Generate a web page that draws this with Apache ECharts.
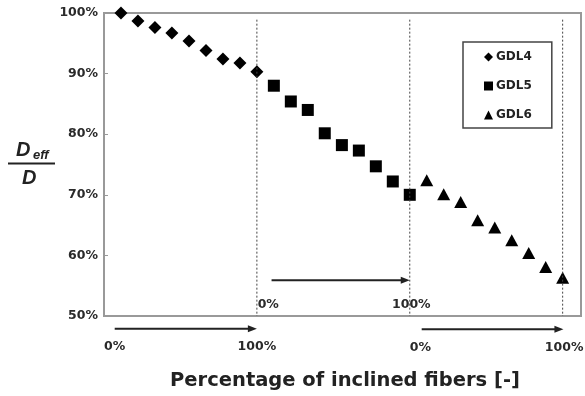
<!DOCTYPE html>
<html><head><meta charset="utf-8">
<script src="https://cdn.jsdelivr.net/npm/echarts@6/dist/echarts.min.js"></script>
<style>html,body{margin:0;padding:0;background:#fff}#c{width:585px;height:396px}</style>
</head><body><div id="c"></div>
<script>
// ---- data ----
const seriesNames = ['GDL4', 'GDL5', 'GDL6'];
const gdl4X = [11.1, 22.2, 33.3, 44.4, 55.6, 66.7, 77.8, 88.9, 100];
const gdl4Y = [100, 98.7, 97.6, 96.7, 95.4, 93.8, 92.4, 91.75, 90.3];
const gdl5X = [111.1, 122.2, 133.3, 144.4, 155.6, 166.7, 177.8, 188.9, 200];
const gdl5Y = [88.0, 85.4, 84.0, 80.15, 78.2, 77.3, 74.7, 72.2, 70.0];
const gdl6X = [211.1, 222.2, 233.3, 244.4, 255.6, 266.7, 277.8, 288.9, 300];
const gdl6Y = [72.4, 70.1, 68.8, 65.8, 64.6, 62.5, 60.4, 58.1, 56.3];
const yTicks = [50, 60, 70, 80, 90, 100];
const segmentBounds = [100, 200, 300];
const rangeLabels = ['0%', '100%'];

// ---- chart ----
const FONT = 'DejaVu Sans';
const chart = echarts.init(document.getElementById('c'), null, {renderer: 'canvas'});
const zip = (xs, ys) => xs.map((x, i) => [x, ys[i]]);
const markStyle = {color: '#000', opacity: 1};

chart.setOption({
  animation: false,
  backgroundColor: '#fff',
  grid: {left: 104, right: 4, top: 13, bottom: 80, show: true, borderColor: '#999', borderWidth: 2},
  xAxis: {type: 'value', min: 0, max: 312, axisLine: {show: true, lineStyle: {color: '#999', width: 2}},
    axisTick: {show: false}, axisLabel: {show: false}, splitLine: {show: false}},
  yAxis: {type: 'value', min: yTicks[0], max: yTicks[yTicks.length - 1], interval: 10,
    axisLine: {show: true, lineStyle: {color: '#999', width: 2}},
    axisTick: {show: true, inside: true, length: 4, lineStyle: {color: '#999', width: 1}},
    axisLabel: {formatter: '{value}%', margin: 6, color: '#2a2a2a', fontWeight: 'bold', fontSize: 12.5, fontFamily: FONT},
    splitLine: {show: false}},
  legend: {data: seriesNames, orient: 'vertical', left: 463, top: 42,
    borderColor: '#444', borderWidth: 1.5, padding: [8, 20, 6, 21], itemGap: 15,
    itemWidth: 9, itemHeight: 9, itemStyle: {borderWidth: 0, opacity: 1},
    textStyle: {fontFamily: FONT, fontWeight: 'bold', fontSize: 12, color: '#222', lineHeight: 14, padding: [0, 0, 0, -2]}},
  series: [
    {name: 'GDL4', type: 'scatter', symbol: 'diamond', symbolSize: 13, itemStyle: markStyle, data: zip(gdl4X, gdl4Y)},
    {name: 'GDL5', type: 'scatter', symbol: 'rect', symbolSize: 12, itemStyle: markStyle, data: zip(gdl5X, gdl5Y)},
    {name: 'GDL6', type: 'scatter', symbol: 'triangle', symbolSize: [13, 12], itemStyle: markStyle, data: zip(gdl6X, gdl6Y)}
  ]
});

// ---- annotations positioned through the axes ----
const px = (x, y) => chart.convertToPixel({xAxisIndex: 0, yAxisIndex: 0}, [x, y]);
const g = [];
// dashed vertical boundaries
segmentBounds.forEach(b => {
  const a = px(b, 98.9), c = px(b, 50);
  g.push({type: 'line', shape: {x1: a[0], y1: a[1], x2: c[0], y2: c[1]}, silent: true,
    style: {stroke: '#444', lineWidth: 1, lineDash: [2, 2]}, z: 5});
});
// arrows: [xStart, xEnd, yValue]
const arrows = [[7, 100, 47.9], [109.6, 200, 55.9], [207.8, 300.5, 47.8]];
arrows.forEach(([x0, x1, yv]) => {
  const a = px(x0, yv), b = px(x1, yv);
  const head = 9;
  g.push({type: 'line', shape: {x1: a[0], y1: a[1], x2: b[0] - head + 1, y2: b[1]}, silent: true,
    style: {stroke: '#222', lineWidth: 2}, z: 5});
  g.push({type: 'polygon', shape: {points: [[b[0], b[1]], [b[0] - head, b[1] - 3.5], [b[0] - head, b[1] + 3.5]]}, silent: true,
    style: {fill: '#222'}, z: 5});
});
// range labels: [xValue, yValue, textIndex, align]
const labelSpots = [[0, 44.9, 0, 'left'], [100, 44.9, 1, 'center'],
  [100.5, 51.8, 0, 'left'], [201, 51.8, 1, 'center'],
  [200, 44.7, 0, 'left'], [301, 44.7, 1, 'center']];
labelSpots.forEach(([xv, yv, ti, al]) => {
  const p = px(xv, yv);
  g.push({type: 'text', x: p[0], y: p[1], silent: true, z: 6,
    style: {text: rangeLabels[ti], fill: '#2a2a2a', font: 'bold 12.5px "' + FONT + '"', textAlign: al, textVerticalAlign: 'middle'}});
});
// axis titles
g.push({type: 'text', x: 345, y: 381, silent: true,
  style: {text: 'Percentage of inclined fibers [-]', fill: '#222', font: 'bold 19.5px "DejaVu Sans"', textAlign: 'center', textVerticalAlign: 'middle'}});
g.push({type: 'text', x: 16, y: 160, silent: true,
  style: {text: 'D', fill: '#222', font: 'italic bold 20px "Liberation Sans"', textVerticalAlign: 'bottom'}});
g.push({type: 'text', x: 33, y: 162, silent: true,
  style: {text: 'eff', fill: '#222', font: 'italic bold 13px "Liberation Sans"', textVerticalAlign: 'bottom'}});
g.push({type: 'line', shape: {x1: 8, y1: 163.5, x2: 55, y2: 163.5}, silent: true, style: {stroke: '#222', lineWidth: 2}});
g.push({type: 'text', x: 22, y: 188, silent: true,
  style: {text: 'D', fill: '#222', font: 'italic bold 20px "Liberation Sans"', textVerticalAlign: 'bottom'}});
chart.setOption({graphic: g});
</script></body></html>
